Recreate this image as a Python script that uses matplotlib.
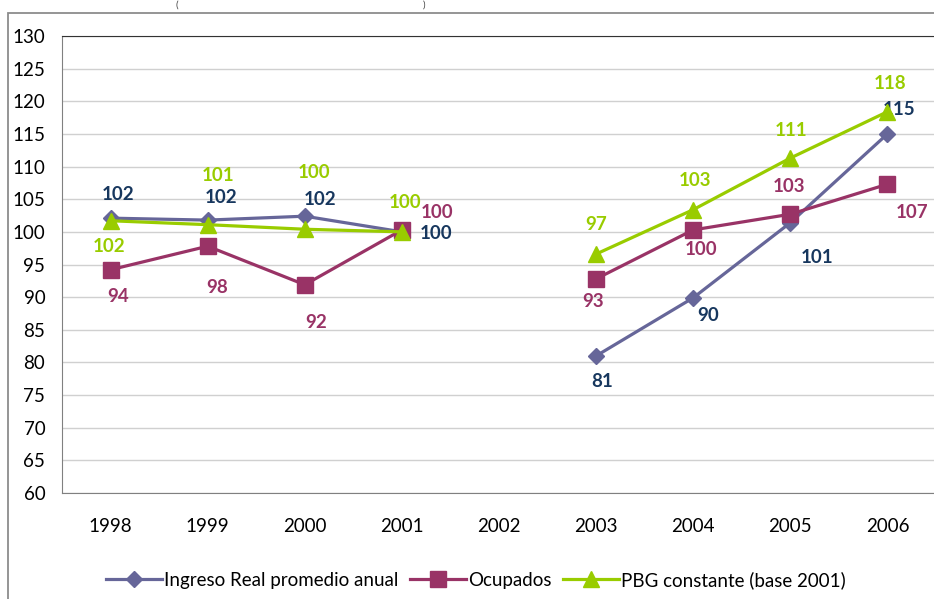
import numpy as np
import matplotlib
matplotlib.use("Agg")
from matplotlib import pyplot as plt
from matplotlib.patches import Rectangle

plt.rcParams['font.family'] = ['Lato', 'DejaVu Sans']

years = ["1998", "1999", "2000", "2001", "2002", "2003", "2004", "2005", "2006"]
ingreso = [102.1, 101.8, 102.4, 100.0, np.nan, 81.0, 89.9, 101.4, 115.0]
ocupados = [94.2, 97.8, 91.9, 100.3, np.nan, 92.8, 100.3, 102.7, 107.3]
pbg = [101.7, 101.1, 100.4, 100.0, np.nan, 96.6, 103.4, 111.3, 118.4]

names = ["Ingreso Real promedio anual", "Ocupados", "PBG constante (base 2001)"]

# label offsets in pixels (dx, dy), screen up = positive
off_ing = [(7, 24), (13, 23), (15, 17), (34, -2), None, (6, -26), (15, -18), (27, -35), (12, 24)]
off_ocu = [(8, -27), (9, -41), (11, -38), (35, 17), None, (-3, -23), (8, -20), (-1, 28), (25, -28)]
off_pbg = [(-2, -26), (10, 49), (9, 57), (3, 29), None, (0, 30), (2, 29), (1, 28), (3, 28)]

fig = plt.figure(figsize=(9.34, 5.99), dpi=100)
W, H = 934, 599

# outer chart border
fig.patches.append(Rectangle((8 / W, -0.1), 1.2, 1 - 13 / H + 0.1, transform=fig.transFigure,
                             fill=False, edgecolor="#8C8C8C", linewidth=1.3))
# title remnant (only the brackets are visible)
fig.text(175 / W, 1 - 1 / H, "(", fontsize=7, ha="left", va="top", color="#404040")
fig.text(425 / W, 1 - 1 / H, ")", fontsize=7, ha="right", va="top", color="#404040")

ax = fig.add_axes([62 / W, 1 - 493 / H, (W - 62 + 2) / W, (493 - 36) / H])
x = np.arange(len(years))

series = [
    (ingreso, "#666699", "D", 8.3, "#17375E", off_ing),
    (ocupados, "#993366", "s", 11, "#993366", off_ocu),
    (pbg, "#99CC00", "^", 12, "#99CC00", off_pbg),
]

for (vals, col, mk, ms, lcol, offs), name in zip(series, names):
    ax.plot(x, vals, color=col, marker=mk, markersize=ms, linewidth=2.3, label=name, zorder=3)
    for xi, v, o in zip(x, vals, offs):
        if o is None or np.isnan(v):
            continue
        ax.annotate("%d" % round(v), (xi, v), xytext=o, textcoords="offset pixels",
                    ha="center", va="center", fontsize=13.5, fontweight="bold", color=lcol)

ax.set_xlim(-0.5, 8.5)
ax.set_ylim(60, 130)
ax.set_yticks(np.arange(60, 131, 5))
ax.set_xticks(x)
ax.set_xticklabels(years)
ax.tick_params(axis="y", length=0, pad=12, labelsize=13.5, labelcolor="#000000")
ax.tick_params(axis="x", length=0, pad=18, labelsize=13.5, labelcolor="#000000")
ax.grid(axis="y", color="#D0D0D0", linewidth=1)
ax.set_axisbelow(True)
for s in ["left", "bottom", "right"]:
    ax.spines[s].set_color("#808080")
ax.spines["top"].set_color("#333333")

fig.legend(loc="center", bbox_to_anchor=(476 / W, 1 - 580 / H), ncol=3, frameon=False,
           fontsize=13.5, handlelength=3.0, handletextpad=0.1, columnspacing=0.6)

fig.savefig("out.png", dpi=100)
